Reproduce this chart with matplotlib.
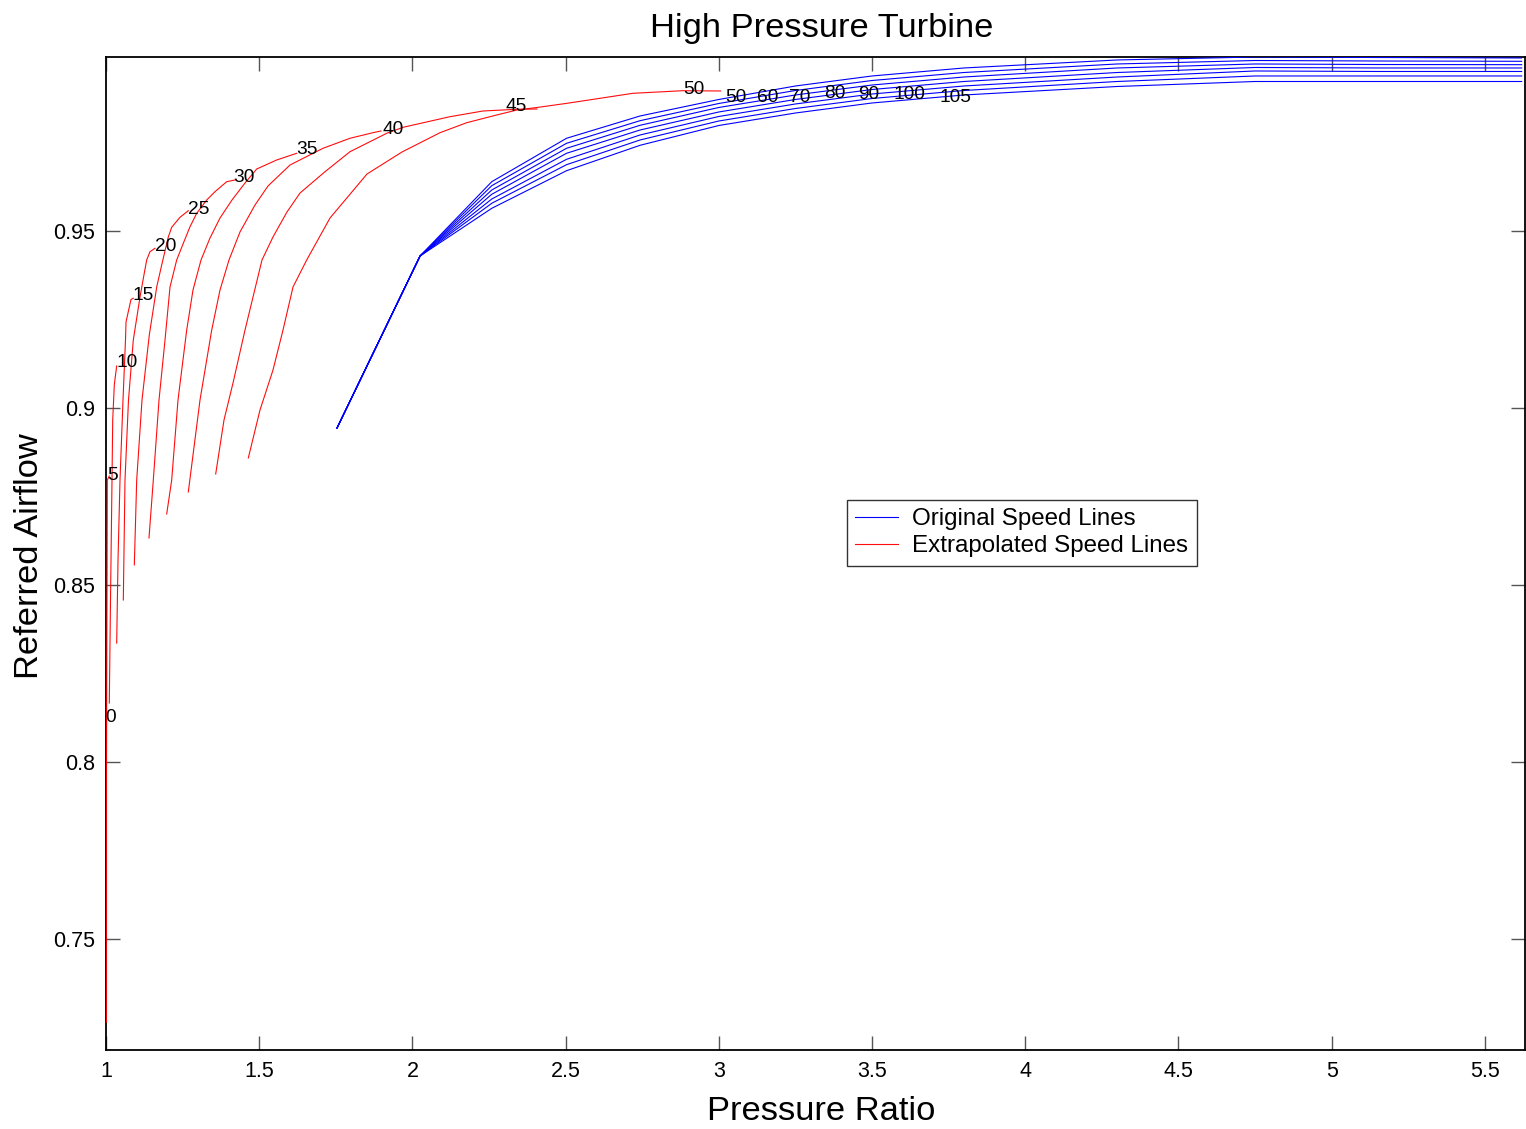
import matplotlib
matplotlib.use("Agg")
import matplotlib.pyplot as plt

plt.rcParams['font.family'] = ['Liberation Sans', 'DejaVu Sans']

# ---------------- data ----------------
# Original speed lines (blue): shared pressure-ratio grid, one flow row per line
blue_pr = [1.754, 2.025, 2.259, 2.503, 2.743, 3.0, 3.25, 3.5, 3.8, 4.3, 4.75, 5.15, 5.62]
blue_flow = [
    [0.89435, 0.94294, 0.96393, 0.97619, 0.98249, 0.98715, 0.99096, 0.99379, 0.99605, 0.99831, 0.99915, 0.99901, 0.99887],
    [0.89435, 0.94294, 0.96280, 0.97477, 0.98116, 0.98602, 0.98969, 0.99251, 0.99477, 0.99718, 0.99816, 0.99802, 0.99794],
    [0.89435, 0.94294, 0.96158, 0.97336, 0.97986, 0.98489, 0.98842, 0.99124, 0.99350, 0.99605, 0.99718, 0.99703, 0.99698],
    [0.89435, 0.94294, 0.96037, 0.97195, 0.97853, 0.98362, 0.98715, 0.98997, 0.99223, 0.99477, 0.99619, 0.99605, 0.99605],
    [0.89435, 0.94294, 0.95904, 0.97025, 0.97712, 0.98235, 0.98588, 0.98870, 0.99096, 0.99350, 0.99520, 0.99506, 0.99506],
    [0.89435, 0.94294, 0.95783, 0.96873, 0.97571, 0.98107, 0.98460, 0.98743, 0.98969, 0.99223, 0.99379, 0.99379, 0.99379],
    [0.89435, 0.94294, 0.95641, 0.96703, 0.97421, 0.97980, 0.98333, 0.98616, 0.98842, 0.99082, 0.99223, 0.99223, 0.99223],
]
blue_speeds = ['50', '60', '70', '80', '90', '100', '105']
blue_label_x = [3.0561, 3.1606, 3.2650, 3.3793, 3.4902, 3.6208, 3.7709]
blue_label_y = [0.98785, 0.98785, 0.98785, 0.98870, 0.98842, 0.98842, 0.98785]

# Extrapolated speed lines (red)
red_speeds = ['0', '5', '10', '15', '20', '25', '30', '35', '40', '45', '50']
red_pr = [
    [1.0, 1.0],
    [1.0010, 1.0033, 1.0042, 1.0108],
    [1.0108, 1.0147, 1.0196, 1.0219, 1.0271, 1.0294, 1.0349],
    [1.0349, 1.0392, 1.0457, 1.0555, 1.0636, 1.0653, 1.0816, 1.0891],
    [1.0565, 1.0620, 1.0734, 1.0891, 1.1110, 1.1250, 1.1328, 1.1436, 1.1599],
    [1.0924, 1.1002, 1.1175, 1.1413, 1.1655, 1.1818, 1.2033, 1.2144, 1.2415, 1.2686],
    [1.1403, 1.1544, 1.1730, 1.1926, 1.2089, 1.2307, 1.2523, 1.2742, 1.2960, 1.3287, 1.3557, 1.3939, 1.4210],
    [1.1981, 1.2144, 1.2350, 1.2634, 1.2839, 1.3101, 1.3394, 1.3721, 1.4112, 1.4537, 1.4918, 1.5571, 1.6224],
    [1.2686, 1.3068, 1.3450, 1.3721, 1.4014, 1.4373, 1.4863, 1.5287, 1.6005, 1.7082, 1.7963, 1.8714, 1.8975],
    [1.3580, 1.3851, 1.4145, 1.4537, 1.5091, 1.5450, 1.5907, 1.6332, 1.7148, 1.7963, 1.8616, 1.9161, 1.9693,
     2.1227, 2.2304, 2.3414, 2.4067],
    [1.4644, 1.5026, 1.5450, 1.5777, 1.6103, 1.6550, 1.7311, 1.8518, 1.9661, 2.0901, 2.1772, 2.2751, 2.3414,
     2.4067, 2.5046, 2.7200, 2.8832, 3.0059],
]
red_flow = [
    [0.72655, 0.81469],
    [0.78926, 0.84576, 0.87966, 0.88079],
    [0.81666, 0.84576, 0.87966, 0.89661, 0.90650, 0.90819, 0.91186],
    [0.83361, 0.85706, 0.87966, 0.90226, 0.91921, 0.92429, 0.93065, 0.93099],
    [0.84576, 0.87966, 0.90226, 0.91921, 0.93136, 0.93814, 0.94181, 0.94415, 0.94511],
    [0.85565, 0.87966, 0.90226, 0.92062, 0.93418, 0.94040, 0.94831, 0.95105, 0.95387, 0.95573],
    [0.86328, 0.87966, 0.90226, 0.91921, 0.93418, 0.94181, 0.94653, 0.95121, 0.95500, 0.95876, 0.96110, 0.96393, 0.96441],
    [0.87006, 0.87966, 0.90226, 0.92203, 0.93333, 0.94181, 0.94802, 0.95367, 0.95876, 0.96356, 0.96751, 0.97006, 0.97195],
    [0.87627, 0.90226, 0.92203, 0.93333, 0.94181, 0.94972, 0.95734, 0.96271, 0.96864, 0.97336, 0.97619, 0.97777, 0.97825],
    [0.88136, 0.89661, 0.90706, 0.92203, 0.94181, 0.94831, 0.95537, 0.96073, 0.96675, 0.97240, 0.97523, 0.97760, 0.97929,
     0.98229, 0.98390, 0.98438, 0.98446],
    [0.88588, 0.89943, 0.91073, 0.92203, 0.93418, 0.94181, 0.95367, 0.96610, 0.97232, 0.97777, 0.98059, 0.98277, 0.98418,
     0.98489, 0.98607, 0.98890, 0.98963, 0.98955],
]
red_label_x = [1.0147, 1.0228, 1.0685, 1.1208, 1.1958, 1.3035, 1.4504, 1.6560, 1.9367, 2.3381, 2.9191]
red_label_y = [0.81243, 0.88107, 0.91271, 0.93164, 0.94548, 0.95621, 0.96497, 0.97288, 0.97881, 0.98503, 0.98983]

x_ticks = [1, 1.5, 2, 2.5, 3, 3.5, 4, 4.5, 5, 5.5]
x_tick_labels = ['1', '1.5', '2', '2.5', '3', '3.5', '4', '4.5', '5', '5.5']
y_ticks = [0.75, 0.8, 0.85, 0.9, 0.95]
y_tick_labels = ['0.75', '0.8', '0.85', '0.9', '0.95']

# ---------------- figure ----------------
W, H = 1526, 1129
fig = plt.figure(figsize=(W / 100, H / 100), dpi=100)
ax = fig.add_axes([106 / W, 1 - 1050 / H, (1525 - 106) / W, (1050 - 57) / H])

for i, flows in enumerate(blue_flow):
    ax.plot(blue_pr, flows, color='#0000ff', lw=0.8, zorder=3,
            label='Original Speed Lines' if i == 0 else None)
for i, (xs, ys) in enumerate(zip(red_pr, red_flow)):
    ax.plot(xs, ys, color='#ff0000', lw=0.8, zorder=3, alpha=0.95,
            label='Extrapolated Speed Lines' if i == 0 else None)

for s, x, y in zip(red_speeds, red_label_x, red_label_y):
    ax.text(x, y, s, fontsize=13.8, ha='center', va='center', color='black', zorder=4)
for s, x, y in zip(blue_speeds, blue_label_x, blue_label_y):
    ax.text(x, y, s, fontsize=13.8, ha='center', va='center', color='black', zorder=4)

ax.set_xlim(1.0, 5.631)
ax.set_ylim(0.71864, 0.99915)
ax.set_xticks(x_ticks)
ax.set_xticklabels(x_tick_labels)
ax.set_yticks(y_ticks)
ax.set_yticklabels(y_tick_labels)
ax.tick_params(direction='in', top=True, right=True, length=10, width=1,
               color='#555555', labelsize=15.5, pad=8)
for sp in ax.spines.values():
    sp.set_linewidth(1.3)
    sp.set_color('black')

leg = ax.legend(loc='upper left', bbox_to_anchor=((847 - 106) / 1419, (1050 - 500) / 993),
                borderaxespad=0, fontsize=17.4, frameon=True, fancybox=False,
                handlelength=1.75, handletextpad=0.6, labelspacing=0.2,
                borderpad=0.35)
leg.get_frame().set_edgecolor('black')
leg.get_frame().set_linewidth(1.0)
leg.set_zorder(5)

fig.text(822 / W, 1 - 37 / H, 'High Pressure Turbine', fontsize=24.8,
         ha='center', va='baseline')
fig.text(821 / W, 1 - 1120 / H, 'Pressure Ratio', fontsize=24.8,
         ha='center', va='baseline')
fig.text(30 / W, 1 - 556 / H, 'Referred Airflow', fontsize=24.8,
         ha='center', va='center', rotation=90)

fig.savefig('out.png', dpi=100)
